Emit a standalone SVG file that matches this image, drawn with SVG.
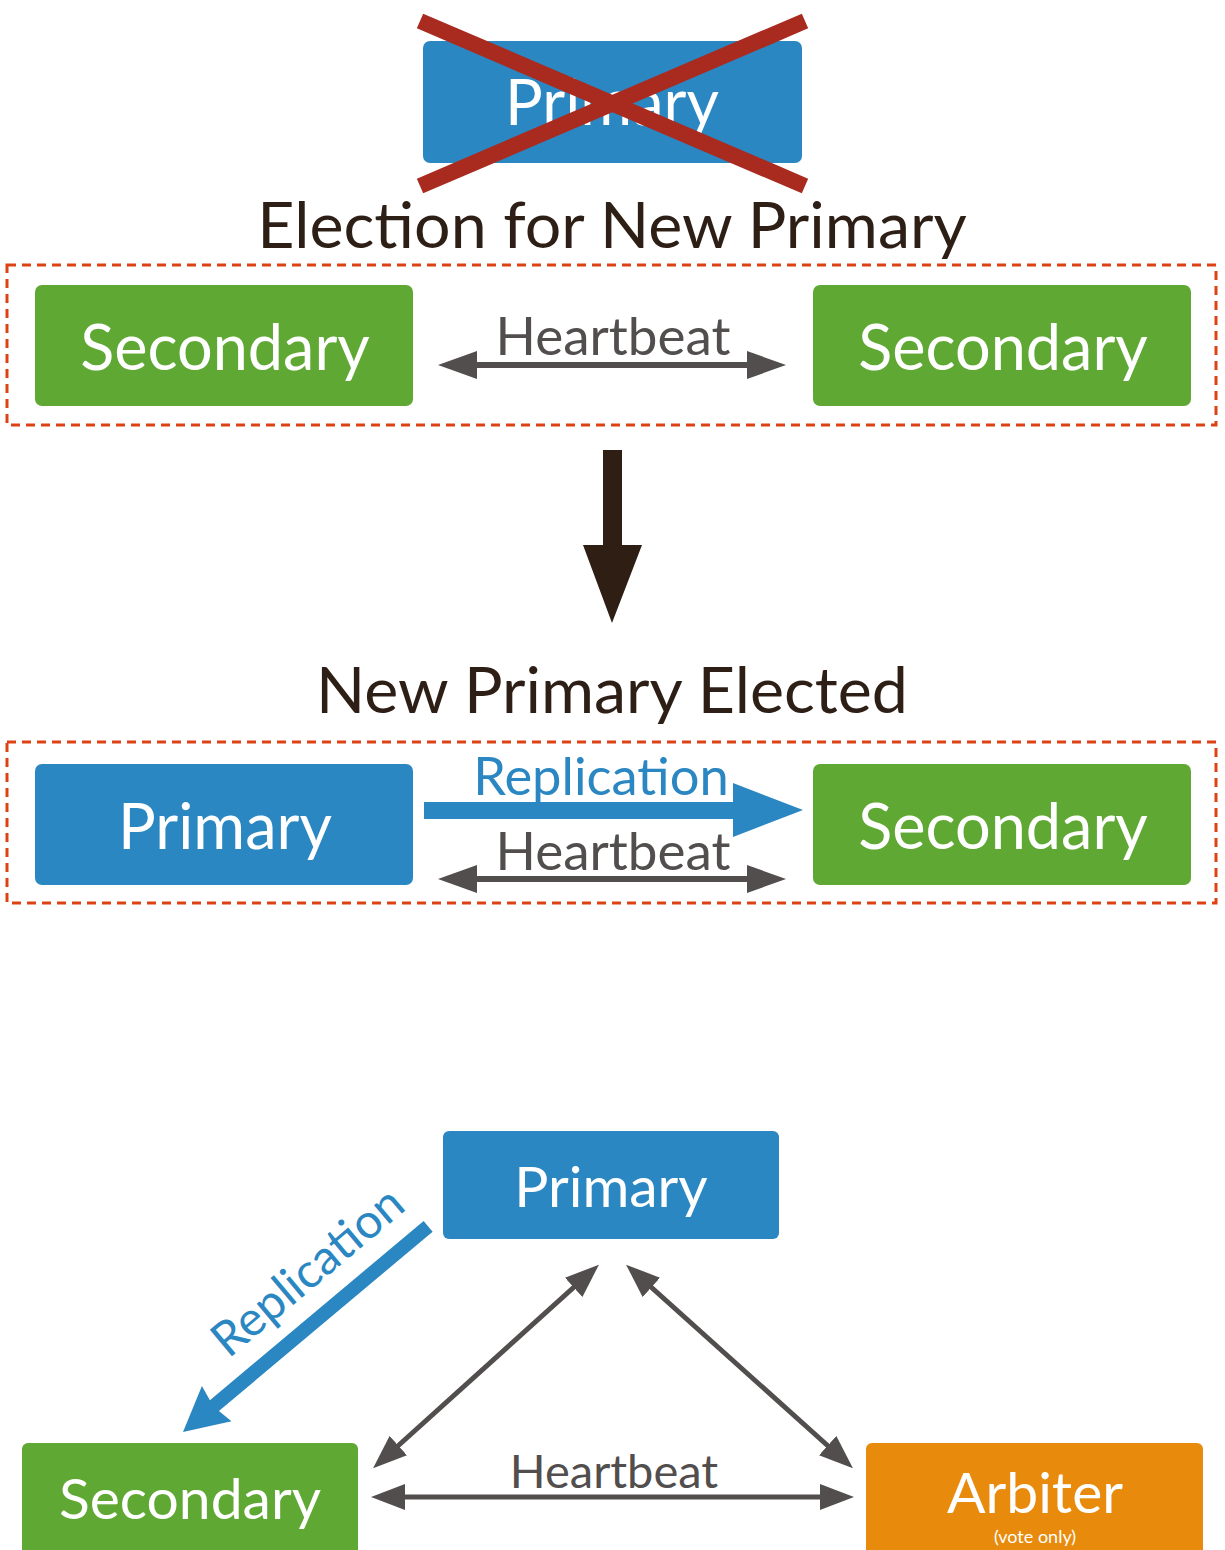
<svg xmlns="http://www.w3.org/2000/svg" width="1225" height="1550" viewBox="0 0 1225 1550">
<style>
.t{font-family:Lato,"Open Sans","Liberation Sans",sans-serif;text-anchor:middle}
.node{font-size:63px;fill:#ffffff}
.nodes{font-size:57px;fill:#ffffff}
.title{font-size:64.5px;fill:#2D1F16}
.hb{font-size:53px;fill:#524E4D}
.hbsm{font-size:47px;fill:#524E4D}
.rep{font-size:52.5px;fill:#2B87C2}
.blue{fill:#2B87C2}
.green{fill:#5FA833}
.orange{fill:#E88B0C}
.dash{fill:none;stroke:#DD4214;stroke-width:3;stroke-dasharray:9 6}
.hbl{stroke:#524E4D;stroke-width:6;fill:none}
.hbs{stroke:#524E4D;stroke-width:5;fill:none}
</style>
<defs>
<marker id="ah" markerUnits="userSpaceOnUse" viewBox="0 0 39 28" markerWidth="39" markerHeight="28" refX="31" refY="14" orient="auto-start-reverse">
<path d="M0,0 L39,14 L0,28 Z" fill="#524E4D"/>
</marker>
<marker id="ahs" markerUnits="userSpaceOnUse" viewBox="0 0 34 26" markerWidth="34" markerHeight="26" refX="26" refY="13" orient="auto-start-reverse">
<path d="M0,0 L34,13 L0,26 Z" fill="#524E4D"/>
</marker>
</defs>

<g id="old-primary">
<rect x="423" y="41" width="379" height="122" rx="7" class="blue"/>
<text class="t node" x="612" y="125">Primary</text>
<g stroke="#A92B20" stroke-width="16">
<line x1="420" y1="21" x2="805" y2="186"/>
<line x1="805" y1="21" x2="420" y2="186"/>
</g>
</g>

<text class="t title" x="612" y="248">Election for New Primary</text>

<g id="election-group">
<rect x="7" y="265" width="1209" height="160" class="dash"/>
</g>
<g id="sec-a">
<rect x="35" y="285" width="378" height="121" rx="7" class="green"/>
<text class="t node" x="225" y="370">Secondary</text>
</g>
<g id="sec-b">
<rect x="813" y="285" width="378" height="121" rx="7" class="green"/>
<text class="t node" x="1003" y="370">Secondary</text>
</g>

<text class="t title" x="612" y="713">New Primary Elected</text>

<g id="elected-group">
<rect x="7" y="742" width="1209" height="161" class="dash"/>
</g>
<g id="primary-new">
<rect x="35" y="764" width="378" height="121" rx="7" class="blue"/>
<text class="t node" x="225" y="849">Primary</text>
</g>
<g id="sec-c">
<rect x="813" y="764" width="378" height="121" rx="7" class="green"/>
<text class="t node" x="1003" y="849">Secondary</text>
</g>

<g id="primary-b">
<rect x="443" y="1131" width="336" height="108" rx="6" class="blue"/>
<text class="t nodes" x="611" y="1207">Primary</text>
</g>
<g id="sec-d">
<rect x="22" y="1443" width="336" height="115" rx="6" class="green"/>
<text class="t nodes" x="190" y="1519">Secondary</text>
</g>
<g id="arbiter">
<rect x="866" y="1443" width="337" height="115" rx="6" class="orange"/>
<text class="t nodes" x="1035" y="1513">Arbiter</text>
<text class="t" x="1035" y="1543" style="font-size:18px;fill:#ffffff">(vote only)</text>
</g>

<g id="connectors">
<line class="hbl" x1="446" y1="365" x2="778" y2="365" marker-start="url(#ah)" marker-end="url(#ah)"/>
<text class="t hb" x="613" y="355">Heartbeat</text>

<path d="M603,450 H622 V545 H642 L612,623 L583,545 H603 Z" fill="#2E1E14"/>

<path d="M424,802 H733 V783 L803,810 L733,837 V819 H424 Z" class="blue"/>
<text class="t rep" x="601" y="795">Replication</text>
<line class="hbl" x1="446" y1="879" x2="778" y2="879" marker-start="url(#ah)" marker-end="url(#ah)"/>
<text class="t hb" x="613" y="870">Heartbeat</text>

<g transform="translate(183,1432) rotate(-40)">
<path d="M0,0 L44,-23 L41,-7 L320,-7 L320,7 L41,7 L44,23 Z" class="blue"/>
</g>
<text class="t" style="font-size:48px;fill:#2B87C2" transform="translate(318,1284) rotate(-40)" x="0" y="0">Replication</text>

<line class="hbs" x1="379" y1="1463" x2="593" y2="1270" marker-start="url(#ahs)" marker-end="url(#ahs)"/>
<line class="hbs" x1="632" y1="1270" x2="847" y2="1463" marker-start="url(#ahs)" marker-end="url(#ahs)"/>
<line class="hbs" x1="379" y1="1497" x2="846" y2="1497" marker-start="url(#ahs)" marker-end="url(#ahs)"/>
<text class="t hbsm" x="614" y="1488">Heartbeat</text>
</g>
</svg>
